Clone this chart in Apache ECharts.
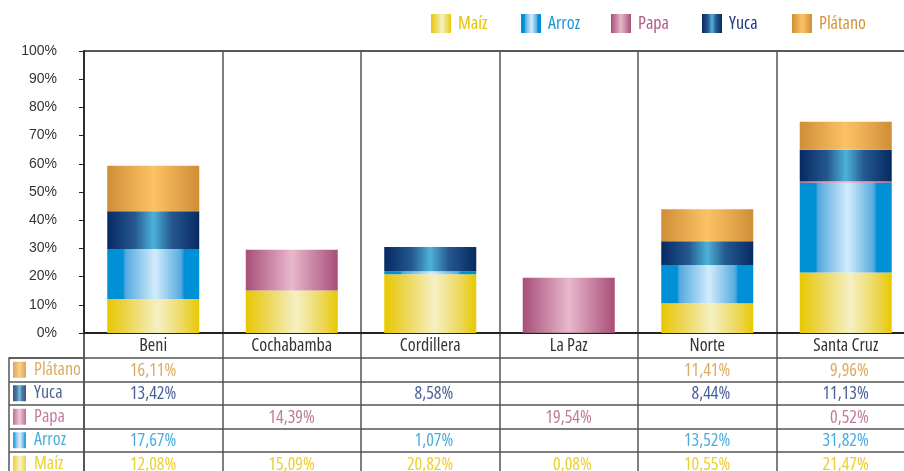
<!DOCTYPE html>
<html><head><meta charset="utf-8">
<script src="https://cdn.jsdelivr.net/npm/echarts@6/dist/echarts.min.js"></script>
<style>html,body{margin:0;padding:0;background:#fff}#c{width:904px;height:471px}</style>
</head><body><div id="c"></div>
<script>
// Regions and crop shares (%)
const categories = ['Beni', 'Cochabamba', 'Cordillera', 'La Paz', 'Norte', 'Santa Cruz'];
const maiz    = [12.08, 15.09, 20.82, 0.08, 10.55, 21.47];
const arroz   = [17.67, null, 1.07, null, 13.52, 31.82];
const papa    = [null, 14.39, null, 19.54, null, 0.52];
const yuca    = [13.42, null, 8.58, null, 8.44, 11.13];
const platano = [16.11, null, null, null, 11.41, 9.96];

const seriesNames = ['Maíz', 'Arroz', 'Papa', 'Yuca', 'Plátano'];
const seriesValues = { 'Maíz': maiz, 'Arroz': arroz, 'Papa': papa, 'Yuca': yuca, 'Plátano': platano };
const tableRows = ['Plátano', 'Yuca', 'Papa', 'Arroz', 'Maíz'];
const legendLeft = [431, 521, 611, 702, 792];

// narrow face for the labels and table
const COND = { fontFamily: "'Open Sans', 'DejaVu Sans Condensed', sans-serif", fontWeight: 'condensed', fontSize: 18 };
const AXIS_FONT = "'Liberation Sans', Arial, sans-serif";

const textColors = {
  'Maíz': '#e6c400', 'Arroz': '#1a98d8', 'Papa': '#b05a86', 'Yuca': '#1c3a7a', 'Plátano': '#d4963c'
};
const stopsByName = {
  'Maíz':    [[0, '#e8c800'], [0.18, '#ebd242'], [0.55, '#f5f0c4'], [0.85, '#ecd650'], [1, '#e8c800']],
  'Arroz':   [[0, '#0090d6'], [0.17, '#0090d6'], [0.2, '#55a9e0'], [0.52, '#d2ecfb'], [0.8, '#58ace0'], [0.84, '#0090d6'], [1, '#0090d6']],
  'Papa':    [[0, '#a84e78'], [0.5, '#e8b8cc'], [1, '#a84e78']],
  'Yuca':    [[0, '#062a62'], [0.3, '#25588f'], [0.5, '#4db2d9'], [0.7, '#25588f'], [1, '#062a62']],
  'Plátano': [[0, '#d08e36'], [0.5, '#fcc266'], [1, '#d08e36']]
};
function fill(name) {
  return new echarts.graphic.LinearGradient(0, 0, 1, 0,
    stopsByName[name].map(([o, c]) => ({ offset: o, color: c })));
}
function fmt(v) { return v.toFixed(2).replace('.', ',') + '%'; }

const chart = echarts.init(document.getElementById('c'), null, { renderer: 'canvas' });

const lineGray = { color: '#555', width: 1.5 };

const barSeries = seriesNames.map(name => ({
  name, type: 'bar', stack: 'total', barWidth: 92,
  xAxisIndex: 0, yAxisIndex: 0,
  itemStyle: { color: fill(name) },
  data: seriesValues[name]
}));

// value cells of the table
const cellData = [];
tableRows.forEach((name, r) => {
  seriesValues[name].forEach((v, c) => {
    if (v != null) cellData.push({ value: [c, r, v], label: { color: textColors[name] } });
  });
});

// key column of the table
const keyData = tableRows.map((name, r) => ({
  name, value: [10.5, r],
  itemStyle: { color: fill(name) },
  label: { color: textColors[name] }
}));

const gridBase = { outerBoundsMode: 'none', containLabel: false };

chart.setOption({
  animation: false,
  backgroundColor: '#fff',
  legend: seriesNames.map((name, i) => ({
    left: legendLeft[i], top: 14, orient: 'horizontal', padding: 0,
    itemWidth: 20, itemHeight: 19, icon: 'rect',
    selectedMode: false,
    data: [{ name, textStyle: { color: textColors[name] } }],
    textStyle: Object.assign({ padding: [0, 0, 0, 2] }, COND)
  })),
  grid: [
    Object.assign({ left: 84, width: 831, top: 51, height: 282, show: true, borderColor: '#222', borderWidth: 1.5 }, gridBase),
    Object.assign({ left: 84, width: 831, top: 333, height: 25 }, gridBase),
    Object.assign({ left: 84, width: 831, top: 358, height: 117.5 }, gridBase),
    Object.assign({ left: 9, width: 75, top: 358, height: 117.5, show: true, borderColor: '#555', borderWidth: 1.5 }, gridBase)
  ],
  xAxis: [
    {
      gridIndex: 0, type: 'category', data: categories,
      axisLine: { lineStyle: { color: '#222', width: 2 } },
      axisTick: { show: false },
      axisLabel: Object.assign({ color: '#333', margin: 4 }, COND),
      splitLine: { show: true, lineStyle: lineGray }
    },
    {
      gridIndex: 1, type: 'category', data: categories,
      axisLine: { show: false }, axisTick: { show: false }, axisLabel: { show: false },
      splitLine: { show: true, lineStyle: lineGray }
    },
    {
      gridIndex: 2, type: 'category', data: categories,
      axisLine: { show: false }, axisTick: { show: false }, axisLabel: { show: false },
      splitLine: { show: true, lineStyle: lineGray }
    },
    { gridIndex: 3, type: 'value', min: 0, max: 75, show: false }
  ],
  yAxis: [
    {
      gridIndex: 0, type: 'value', min: 0, max: 100, interval: 10,
      axisLine: { show: true, lineStyle: { color: '#222', width: 1.5 } },
      axisTick: { show: true, length: 5, lineStyle: { color: '#222' } },
      axisLabel: { formatter: '{value}%', fontFamily: AXIS_FONT, fontSize: 14, color: '#333', margin: 27 },
      splitLine: { show: false }
    },
    {
      gridIndex: 1, type: 'category', data: [''],
      axisLine: { show: true, lineStyle: lineGray }, axisTick: { show: false }, axisLabel: { show: false },
      splitLine: { show: false }
    },
    {
      gridIndex: 2, type: 'category', data: tableRows, inverse: true,
      axisLine: { show: true, lineStyle: lineGray }, axisTick: { show: false }, axisLabel: { show: false },
      splitLine: { show: true, lineStyle: lineGray }
    },
    {
      gridIndex: 3, type: 'category', data: tableRows, inverse: true,
      axisLine: { show: false }, axisTick: { show: false }, axisLabel: { show: false },
      splitLine: { show: true, lineStyle: lineGray }
    }
  ],
  series: [
    ...barSeries,
    {
      type: 'scatter', xAxisIndex: 2, yAxisIndex: 2,
      symbolSize: 1, itemStyle: { color: 'rgba(0,0,0,0)' },
      silent: true,
      label: Object.assign({
        show: true, position: 'inside', align: 'right', offset: [23, 1],
        formatter: p => fmt(p.value[2])
      }, COND),
      data: cellData
    },
    {
      type: 'scatter', xAxisIndex: 3, yAxisIndex: 3,
      symbol: 'rect', symbolSize: [13, 16], silent: true,
      label: Object.assign({
        show: true, position: 'right', distance: 8,
        formatter: p => p.name
      }, COND),
      data: keyData
    }
  ]
});
</script>
</body></html>
